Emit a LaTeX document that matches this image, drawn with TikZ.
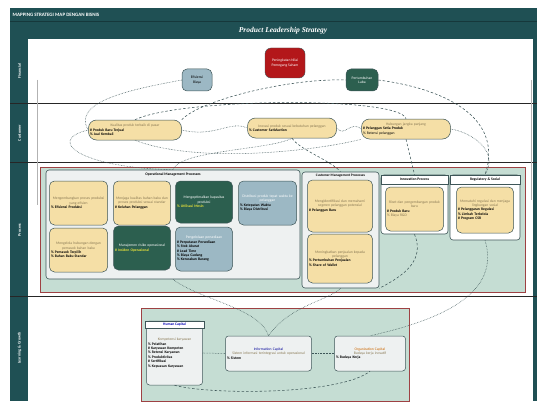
\documentclass[tikz,border=0pt]{standalone}
\usepackage{fontspec}
\setmainfont{Carlito}
\newfontfamily\titlefont{Liberation Serif}
\usetikzlibrary{positioning,calc}
\definecolor{bandteal}{HTML}{1F5054}
\definecolor{tanfill}{HTML}{F5DFA6}
\definecolor{greyblue}{HTML}{9CB8C4}
\definecolor{deepgreen}{HTML}{2C5F4F}
\definecolor{leadred}{HTML}{B3171A}
\definecolor{areagreen}{HTML}{C5DDD3}
\definecolor{grpfill}{HTML}{EEF1F1}
\definecolor{desccol}{HTML}{8A7A55}
\definecolor{kpiyellow}{HTML}{E8E23A}
\definecolor{linecol}{HTML}{3E5658}
\newcommand{\dsc}[1]{{\centering\color{desccol}#1\par}}
\newcommand{\kpi}[1]{\textbf{#1}}

\begin{document}
\begin{tikzpicture}[x=1pt,y=-1pt,
  every node/.style={font=\fontsize{3.7}{4.4}\selectfont,inner sep=1.5pt},
  tanbox/.style={draw=linecol,fill=tanfill,rounded corners=5pt,line width=0.5pt,align=left},
  bluebox/.style={draw=linecol,fill=greyblue,rounded corners=5pt,line width=0.5pt,align=left},
  greenbox/.style={draw=linecol,fill=deepgreen,rounded corners=5pt,line width=0.5pt,align=left,text=white},
  pill/.style={draw=linecol,fill=tanfill,rounded corners=8pt,line width=0.5pt,align=left,minimum height=20pt},
  grp/.style={draw=linecol,fill=grpfill,rounded corners=3pt,line width=0.6pt},
  area/.style={draw=leadred!60!gray,fill=areagreen,line width=0.7pt},
  lcap/.style={draw=linecol,fill=grpfill,rounded corners=3pt,line width=0.5pt,align=left},
  lane/.style={rotate=90,text=white,font=\fontsize{4}{4.5}\selectfont\bfseries},
  con/.style={densely dotted,draw=linecol,line width=0.55pt},
  dcon/.style={dash pattern=on 2.5pt off 2pt,draw=linecol,line width=0.55pt}]
\useasboundingbox (0,0) rectangle (540,401);
\fill[bandteal] (10,8) rectangle (537,401);
\fill[white] (28,39) rectangle (533,401);
\draw[bandteal!70!black,line width=0.4pt] (10,21) -- (537,21);
\node[anchor=west,text=white,font=\fontsize{5}{6}\selectfont\bfseries] (hdr) at (11,14.5) {MAPPING STRATEGI MAP DENGAN BISNIS};
\node[text=white,font=\titlefont\fontsize{7.5}{8}\selectfont\bfseries\itshape] (ttl) at (283,31) {Product Leadership Strategy};
\node[lane] (lfin) at (19.5,71) {Financial};
\node[lane] (lcus) at (19.5,133) {Customer};
\node[lane] (lpro) at (19.5,230) {Process};
\node[lane] (llg) at (19.5,348) {Learning \& Growth};
\foreach \y in {103,162,296} \draw[black!85,line width=0.8pt] (10,\y) -- (537,\y);
\coordinate (lvA) at (37,80); \coordinate (lvB) at (37,205);
\coordinate (rvA) at (531,80); \coordinate (rvB) at (531,200);
\draw[gray!60,line width=0.6pt] (lvA) -- (lvB);
\draw[gray!60,line width=0.6pt] (rvA) -- (rvB);
\node[area,minimum width=485pt,minimum height=125pt] (procarea) at (282.5,229.5) {};
\node[area,minimum width=268pt,minimum height=93pt] (lgarea) at (275,354.5) {};
\node[grp,minimum width=254pt,minimum height=109pt] (opgrp) at (173,224.5) {};
\node[font=\fontsize{3.7}{4.4}\selectfont\bfseries] (optitle) at (173,175) {Operational Management Processes};
\node[grp,minimum width=77pt,minimum height=116pt] (cmgrp) at (340.5,230) {};
\node[font=\fontsize{3.5}{4.2}\selectfont\bfseries] (cmtitle) at (340.5,176) {Customer Management Processes};
\node[grp,fill=white,minimum width=67pt,minimum height=59pt] (inngrp) at (414.5,204.5) {};
\node[draw=linecol,fill=white,minimum width=67pt,minimum height=9pt,font=\fontsize{3.7}{4.4}\selectfont\bfseries] (inntitle) at (414.5,179.5) {Innovation Process};
\node[grp,fill=white,minimum width=70pt,minimum height=65pt] (reggrp) at (485,207.5) {};
\node[draw=linecol,fill=white,minimum width=70pt,minimum height=9pt,font=\fontsize{3.7}{4.4}\selectfont\bfseries] (regtitle) at (485,179.5) {Regulatory \& Social};
\node[draw=linecol,fill=leadred,rounded corners=6pt,minimum width=40pt,minimum height=30pt,text=white,align=center] (fin1) at (285,63) {Peningkatan Nilai\\Pemegang Saham};
\node[bluebox,align=center,minimum width=30pt,minimum height=22pt] (fin2) at (197,80) {Efisiensi\\Biaya};
\node[greenbox,align=center,minimum width=32pt,minimum height=22pt] (fin3) at (362,80) {Pertumbuhan\\Laba};
\node[pill,text width=90pt] (cus1) at (135,130) {\dsc{Kualitas produk terbaik di pasar}\kpi{\# Produk Baru Terjual}\\\kpi{\% Jual Kembali}};
\node[pill,text width=86pt] (cus2) at (292,128) {\dsc{Inovasi produk sesuai kebutuhan pelanggan}\kpi{\% Customer Satisfaction}};
\node[pill,text width=86pt] (cus3) at (406,129) {\dsc{Hubungan jangka panjang}\kpi{\# Pelanggan Setia Produk}\\\% Retensi pelanggan};
\node[tanbox,text width=55pt,minimum height=44pt] (n1) at (78.5,203) {\dsc{Mengembangkan proses produksi yang efisien}\kpi{\% Efisiensi Produksi}};
\node[tanbox,text width=54pt,minimum height=44pt] (n2) at (142,203) {\dsc{Menjaga kualitas bahan baku dan proses produksi sesuai standar}\kpi{\# Keluhan Pelanggan}};
\node[greenbox,text width=54pt,minimum height=42pt] (n3) at (204,202) {{\centering Mengoptimalkan kapasitas produksi\par}\textcolor{kpiyellow}{\kpi{\% Utilisasi Mesin}}};
\node[bluebox,text width=55pt,minimum height=44pt] (n4) at (267.5,203) {{\centering\color{white}Distribusi produk tepat waktu ke pelanggan\par}\kpi{\% Ketepatan Waktu}\\\kpi{\% Biaya Distribusi}};
\node[tanbox,text width=55pt,minimum height=44pt] (n5) at (78.5,250) {\dsc{Mengelola hubungan dengan pemasok bahan baku}\kpi{\% Pemasok Terpilih}\\\kpi{\% Bahan Baku Standar}};
\node[greenbox,text width=54pt,minimum height=44pt] (n6) at (142,248) {{\centering Manajemen risiko operasional\par}\textcolor{kpiyellow}{\kpi{\# Insiden Operasional}}};
\node[bluebox,text width=54pt,minimum height=44pt] (n7) at (204,249) {{\centering\color{white}Pengelolaan persediaan\par}\kpi{\# Perputaran Persediaan}\\\kpi{\% Stok Akurat}\\\kpi{\# Lead Time}\\\kpi{\% Biaya Gudang}\\\kpi{\% Kerusakan Barang}};
\node[tanbox,text width=62pt,minimum height=52pt] (cm1) at (340,206) {\dsc{Mengidentifikasi dan memahami segmen pelanggan potensial}\kpi{\# Pelanggan Baru}};
\node[tanbox,text width=62pt,minimum height=49pt] (cm2) at (340,258.5) {\dsc{Meningkatkan penjualan kepada pelanggan}\kpi{\% Pertumbuhan Penjualan}\\\kpi{\% Share of Wallet}};
\node[tanbox,text width=55pt,minimum height=44pt] (inn1) at (414.5,209) {\dsc{Riset dan pengembangan produk baru}\kpi{\# Produk Baru}\\\textcolor{desccol}{\% Biaya R\&D}};
\node[tanbox,text width=54pt,minimum height=46pt] (reg1) at (485,210) {\dsc{Mematuhi regulasi dan menjaga lingkungan sosial}\kpi{\# Pelanggaran Regulasi}\\\kpi{\% Limbah Terkelola}\\\kpi{\# Program CSR}};
\node[lcap,text width=53pt,minimum height=64pt] (hcbox) at (174.5,353) {\dsc{Kompetensi karyawan}\kpi{\% Pelatihan}\\\kpi{\# Karyawan Kompeten}\\\kpi{\% Retensi Karyawan}\\\kpi{\% Produktivitas}\\\kpi{\# Sertifikasi}\\\kpi{\% Kepuasan Karyawan}};
\node[draw=linecol,fill=white,minimum width=59pt,minimum height=7pt,font=\fontsize{3.7}{4.4}\selectfont\bfseries,text=blue!70!black] (hctitle) at (174.5,324.5) {Human Capital};
\node[lcap,text width=83pt,minimum height=35pt] (mbox) at (268.5,353.5) {{\centering\color{blue!60!black}Information Capital\par}\dsc{Sistem informasi terintegrasi untuk operasional}\kpi{\% Sistem}};
\node[lcap,text width=68pt,minimum height=35pt] (rbox) at (370,353.5) {{\centering\color{orange!80!black}Organization Capital\par}\dsc{Budaya kerja inovatif}\kpi{\% Budaya Kerja}};
\draw[con] (fin2.west) .. controls (140,88) and (70,100) .. (cus1.west);
\draw[dcon] (cus1.north east) .. controls (200,100) and (290,78) .. (fin3.west);
\draw[dcon] (fin3.east) .. controls (440,88) and (505,115) .. (reggrp.north);
\draw[dcon] (cus1.north) .. controls (180,98) and (400,96) .. (cus3.north);
\draw[con] (cus1.east) .. controls (215,138) and (230,120) .. (cus2.west);
\draw[con] (cus2.east) .. controls (345,138) and (350,120) .. (cus3.west);
\draw[con] (cus1.west) .. controls (45,140) and (80,168) .. (opgrp.north);
\draw[con] (cus2.south) .. controls (270,150) and (180,150) .. (opgrp.north);
\draw[con] (cus1.south) .. controls (200,165) and (320,150) .. (cus3.south west);
\draw[dcon] (cus3.south) -- (inngrp.north);
\draw[con] (cus3.east) .. controls (470,132) and (500,150) .. (reggrp.north);
\draw[dcon] (cus2.south) .. controls (300,150) and (330,160) .. (cmgrp.north);
\draw[dcon] (inngrp.south) .. controls (425,260) and (405,275) .. (cmgrp.south east);
\draw[con] (reggrp.south) .. controls (500,290) and (450,318) .. (rbox.north);
\draw[con] (opgrp.south) .. controls (200,300) and (260,308) .. (mbox.north);
\draw[con] (cmgrp.south) .. controls (330,300) and (290,305) .. (mbox.north);
\draw[dcon] (hcbox.south) .. controls (210,395) and (340,395) .. (rbox.south);
\draw[con] (hcbox.east) -- (mbox.west);
\draw[con] (mbox.east) -- (rbox.west);
\end{tikzpicture}
\end{document}
